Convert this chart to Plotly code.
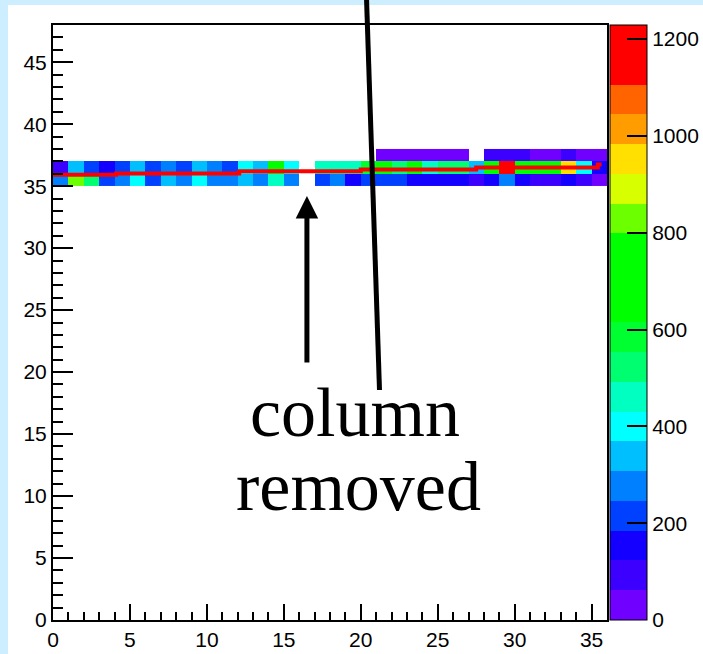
import plotly.graph_objects as go

# ---- histogram contents (x bins 0..35, y bins 35, 36, 37) ----
x_bins = list(range(36))
y_bins = [35, 36, 37]
N = None
counts_y35 = [277, 830, 522, 215, 277, 400, 215, 338, 277, 400, 277, 277,
              338, 277, 460, 277, N, 215, 277, 154, 215, 215, 215, 154,
              154, 154, 154, 92, 154, 277, 154, 92, 92, 154, 92, 31]
counts_y36 = [92, 338, 215, 154, 215, 338, 215, 277, 215, 338, 277, 215,
              400, 338, 700, 400, N, 460, 460, 460, 590, 700, 522, 700,
              460, 522, 522, 338, 700, 1229, 700, 700, 700, 950, 400, 154]
counts_y37 = [N] * 21 + [31, 31, 31, 31, 31, 31, N, 92, 92, 92, 31, 31, 92, 31, 31]

z_min, z_max = 0, 1229
cbar_ticks = [0, 200, 400, 600, 800, 1000, 1200]

# mean-position line drawn over the map
line_x = [0, 4.1, 12.1, 20.0, 27.5, 35.4, 35.65]
line_y = [35.92, 36.03, 36.21, 36.35, 36.51, 36.75, 36.75]

# 20-level palette
band_colors = ['#7000ff', '#3c00ff', '#1400ff', '#0040ff', '#0080ff',
               '#00bfff', '#00ffff', '#00ffc0', '#00ff70', '#00ff30',
               '#00ff00', '#00ff00', '#00ff00', '#6cff00', '#d8ff00',
               '#ffe000', '#ff9c00', '#ff6400', '#ff0000', '#ff0000']
n_bands = len(band_colors)
colorscale = []
for i, c in enumerate(band_colors):
    colorscale.append([i / n_bands, c])
    colorscale.append([(i + 1) / n_bands, c])

W, H = 703, 654
ML, MR, MT, MB = 53, 96, 25, 34
PW, PH = W - ML - MR, H - MT - MB


def px_to_paper(px, py):
    return (px - ML) / PW, (H - MB - py) / PH


fig = go.Figure()

fig.add_trace(go.Heatmap(
    x=[b + 0.5 for b in x_bins],
    y=[b + 0.5 for b in y_bins],
    z=[counts_y35, counts_y36, counts_y37],
    zmin=z_min, zmax=z_max,
    colorscale=colorscale,
    hoverongaps=False,
    colorbar=dict(
        x=px_to_paper(610, 0)[0], xanchor='left', xpad=0,
        y=0.5, yanchor='middle', ypad=0,
        thickness=37, thicknessmode='pixels',
        len=PH, lenmode='pixels',
        outlinewidth=1, outlinecolor='black',
        tickvals=cbar_ticks, ticks='inside', ticklen=20, tickwidth=2,
        tickcolor='black',
        tickfont=dict(family='Liberation Sans', size=21, color='black'),
    ),
))

fig.add_trace(go.Scatter(
    x=line_x, y=line_y, mode='lines',
    line=dict(color='#ff0000', width=4, shape='hv'),
    showlegend=False, hoverinfo='skip',
))

axis_font = dict(family='Liberation Sans', size=21, color='black')
fig.update_xaxes(
    range=[0, 36], tick0=0, dtick=5, ticks='inside', ticklen=16, tickwidth=2,
    tickcolor='black', showline=True, linewidth=2, linecolor='black',
    mirror=True, showgrid=False, zeroline=False, tickfont=axis_font,
    minor=dict(dtick=1, ticks='inside', ticklen=8, tickwidth=2,
               tickcolor='black', showgrid=False),
)
fig.update_yaxes(
    range=[0, 48], tick0=0, dtick=5, ticks='inside', ticklen=20, tickwidth=2,
    tickcolor='black', showline=True, linewidth=2, linecolor='black',
    mirror=True, showgrid=False, zeroline=False, tickfont=axis_font,
    minor=dict(dtick=1, ticks='inside', ticklen=10, tickwidth=2,
               tickcolor='black', showgrid=False),
)

# white canvas over the light-blue frame
x0, y1 = px_to_paper(8, 5)
x1, y0 = px_to_paper(W + 5, H + 5)
fig.add_shape(type='rect', xref='paper', yref='paper',
              x0=x0, x1=x1, y0=y0, y1=y1,
              fillcolor='white', line=dict(width=0), layer='below')

# pointer line coming from above
lx0, ly0 = px_to_paper(366.5, -2)
lx1, ly1 = px_to_paper(379.5, 390)
fig.add_shape(type='line', xref='paper', yref='paper',
              x0=lx0, y0=ly0, x1=lx1, y1=ly1,
              line=dict(color='black', width=5), layer='above')

# arrow pointing at the removed column
fig.add_annotation(x=16.5, y=34.2, xref='x', yref='y', text='',
                   showarrow=True, arrowhead=2, arrowsize=0.9, arrowwidth=5,
                   arrowcolor='black', ax=0, ay=168)

label_font = dict(family='Liberation Serif', size=70, color='black')
cx, cy = px_to_paper(355, 412)
fig.add_annotation(x=cx, y=cy, xref='paper', yref='paper', text='column',
                   showarrow=False, font=label_font,
                   xanchor='center', yanchor='middle')
rx, ry = px_to_paper(358, 486)
fig.add_annotation(x=rx, y=ry, xref='paper', yref='paper', text='removed',
                   showarrow=False, font=label_font,
                   xanchor='center', yanchor='middle')

fig.update_layout(
    width=W, height=H,
    margin=dict(l=ML, r=MR, t=MT, b=MB, autoexpand=False),
    paper_bgcolor='#cceeff', plot_bgcolor='white',
    showlegend=False,
)

fig.write_html('out.html')
